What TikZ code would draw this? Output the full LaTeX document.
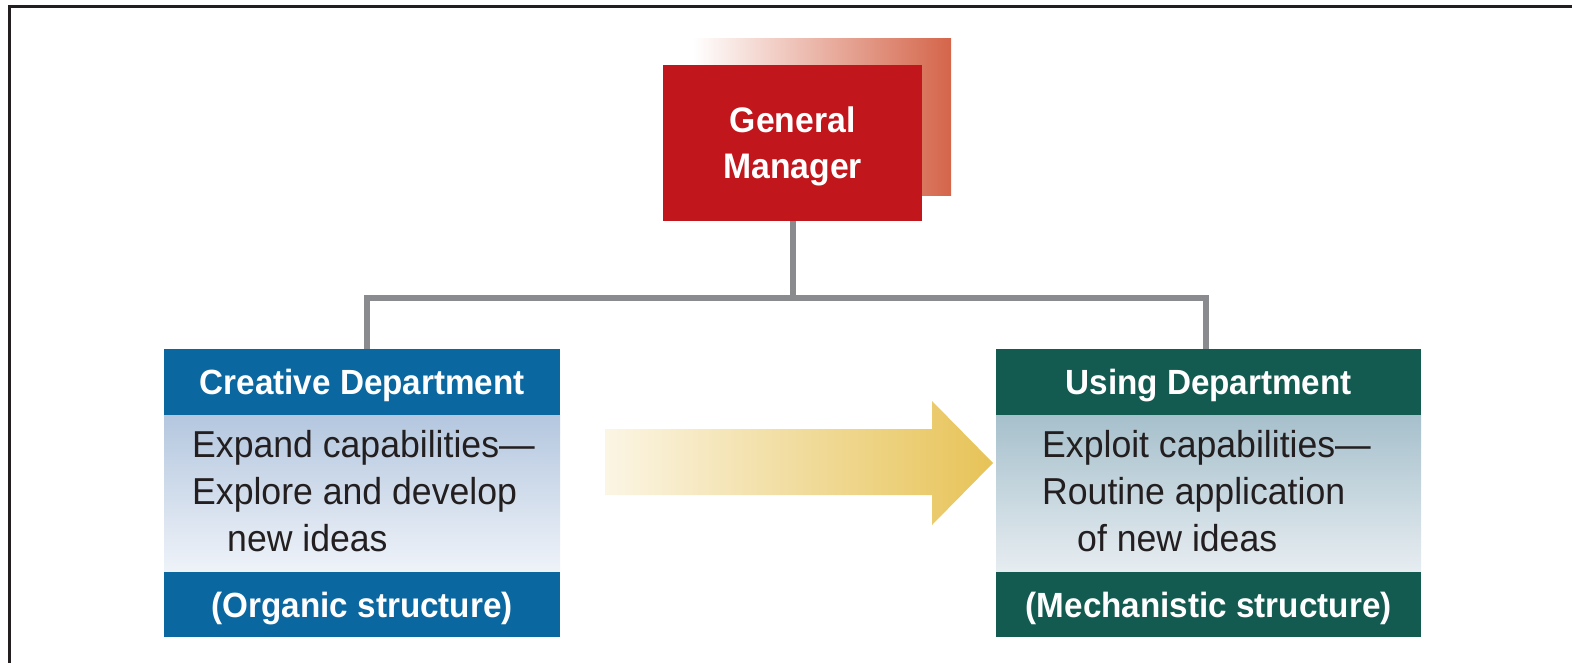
\documentclass[tikz,border=0pt]{standalone}
\usepackage{fontspec}
\setmainfont{Liberation Sans}[FakeStretch=0.95]
\definecolor{frameink}{HTML}{231F20}
\definecolor{gmred}{HTML}{C1161C}
\definecolor{gmshade}{HTML}{D4654A}
\definecolor{deptblue}{HTML}{0B67A0}
\definecolor{deptgreen}{HTML}{135A50}
\definecolor{bluetop}{HTML}{B4C7DF}
\definecolor{bluebot}{HTML}{EFF3F9}
\definecolor{greentop}{HTML}{A6C0CC}
\definecolor{greenbot}{HTML}{E7EDF1}
\definecolor{arrowlight}{HTML}{FBF5E4}
\definecolor{arrowdark}{HTML}{E7C357}
\definecolor{linkgray}{HTML}{8A8B8F}
\definecolor{bodyink}{HTML}{231F20}
\begin{document}
\begin{tikzpicture}[x=1pt,y=-1pt,
  band/.style={rectangle, inner sep=0pt, anchor=north west, text=white,
    font=\bfseries\fontsize{35}{40}\selectfont, text height=25pt, text depth=0pt},
  bodypanel/.style={rectangle, inner sep=0pt, anchor=north west},
  bodyline/.style={anchor=base west, inner sep=0pt, text=bodyink,
    font=\fontsize{37.5}{45}\selectfont},
  link/.style={draw=linkgray, line width=6pt}]
\useasboundingbox (0,0) rectangle (1572,663);

% frame (top and left edges)
\draw[frameink, line width=3pt] (9,663) -- (9,6.5) -- (1572,6.5);

% general manager with its faded backing tile
\shade[left color=white, right color=gmshade] (693,39) rectangle (951,196);
\node[rectangle, fill=gmred, inner sep=0pt, anchor=north west,
  minimum width=259, minimum height=156] (gm) at (663,65) {};
\node[text=white, font=\bfseries\fontsize{35.5}{46}\selectfont, align=center,
  inner sep=0pt] (gmtext) at ([yshift=-3]gm.center) {General\\Manager};

% creative department
\node[band, fill=deptblue, minimum width=396, minimum height=66] (cdh) at (164,349) {Creative Department};
\node[bodypanel, top color=bluetop, bottom color=bluebot, minimum width=396, minimum height=157] (cdb) at (164,415) {};
\node[band, fill=deptblue, minimum width=396, minimum height=65] (cdf) at (164,572) {(Organic structure)};
\node[bodyline] (cd1) at (192,457) {Expand capabilities—};
\node[bodyline] (cd2) at (192,504) {Explore and develop};
\node[bodyline] (cd3) at (227,551) {new ideas};

% using department
\node[band, fill=deptgreen, minimum width=425, minimum height=66] (udh) at (996,349) {Using Department};
\node[bodypanel, top color=greentop, bottom color=greenbot, minimum width=425, minimum height=157] (udb) at (996,415) {};
\node[band, fill=deptgreen, minimum width=425, minimum height=65] (udf) at (996,572) {(Mechanistic structure)};
\node[bodyline] (ud1) at (1042,457) {Exploit capabilities—};
\node[bodyline] (ud2) at (1042,504) {Routine application};
\node[bodyline] (ud3) at (1077,551) {of new ideas};

% reporting lines
\coordinate (bus) at (0,298);
\coordinate (cdtop) at ([xshift=5pt]cdh.north);
\coordinate (udtop) at ([xshift=-3pt]udh.north);
\draw[link] (gm.south) -- (gm.south |- bus);
\draw[link, line join=miter] (cdtop) -- (cdtop |- bus) -- (udtop |- bus) -- (udtop);

% transfer arrow between departments
\shade[left color=arrowlight, right color=arrowdark]
  (605,429) -- (932,429) -- (932,401) -- (993,463) -- (932,525) -- (932,495) -- (605,495) -- cycle;
\end{tikzpicture}
\end{document}
